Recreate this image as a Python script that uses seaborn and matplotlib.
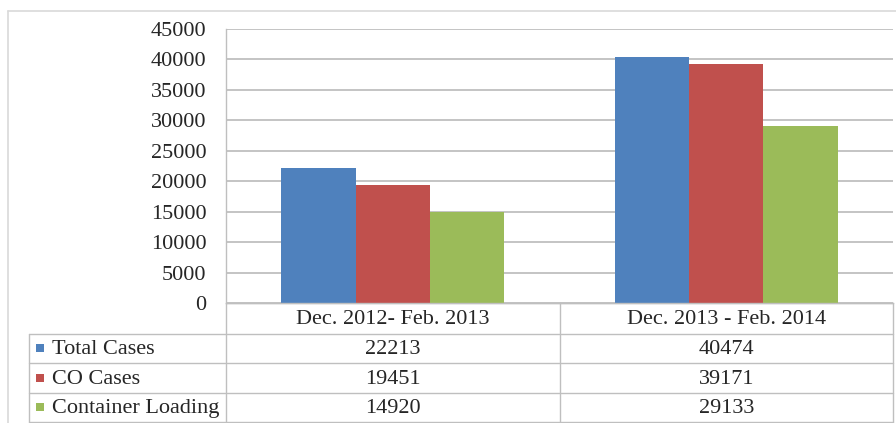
import pandas as pd
import numpy as np
import matplotlib.pyplot as plt
import seaborn as sns
from matplotlib.patches import Rectangle

# Daten
periods = ['Dec. 2012- Feb. 2013', 'Dec. 2013 - Feb. 2014']
series = ['Total Cases', 'CO Cases', 'Container Loading']
total_cases = [22213, 40474]
co_cases = [19451, 39171]
container_loading = [14920, 29133]
colors = ['#4F81BD', '#C0504D', '#9BBB59']
yticks = [0, 5000, 10000, 15000, 20000, 25000, 30000, 35000, 40000, 45000]

W, H = 896, 423
GRID = '#BFBFBF'
FS = 16

df = pd.DataFrame({
    'period': periods * 3,
    'series': [s for s in series for _ in periods],
    'value': total_cases + co_cases + container_loading,
})

sns.set_style('white')
plt.rcParams['font.family'] = ['Liberation Serif', 'DejaVu Serif']

fig = plt.figure(figsize=(W / 100, H / 100), dpi=100)

# Plotbereich (Pixel-Layout)
left, right, top, zero = 226, 893, 29, 303
ax = fig.add_axes([left / W, (H - zero) / H, (right - left) / W, (zero - top) / H])
sns.barplot(data=df, x='period', y='value', hue='series', palette=colors,
            width=0.67, saturation=1, linewidth=0, legend=False, ax=ax, zorder=3)
ax.set_xlim(-0.5, 1.5)
ax.set_ylim(0, 45000)
ax.set_yticks(yticks)
ax.set_yticklabels([str(v) for v in yticks], fontsize=FS)
ax.set_xticks([])
ax.set_xlabel('')
ax.set_ylabel('')
ax.tick_params(axis='y', length=0, pad=14)
ax.grid(axis='y', color=GRID, linewidth=1.3, zorder=0)
ax.set_axisbelow(True)
for s in ['top', 'right']:
    ax.spines[s].set_visible(False)
for s in ['left', 'bottom']:
    ax.spines[s].set_color(GRID)
    ax.spines[s].set_linewidth(1.0)

# Overlay fuer Datentabelle und Rahmen
ov = fig.add_axes([0, 0, 1, 1], zorder=5)
ov.set_xlim(0, W)
ov.set_ylim(H, 0)
ov.axis('off')
ov.patch.set_visible(False)

def px_x(xdata):
    return ax.transData.transform((xdata, 0))[0]

lc = '#BFBFBF'
tab_left = 29
rows = [303, 334, 363, 393, 422]
col_edges = [px_x(-0.5), px_x(0.5), px_x(1.5)]
col_centers = [px_x(0), px_x(1)]

# Rahmen aussen
ov.plot([8, W], [11, 11], color='#D9D9D9', lw=1.2)
ov.plot([8, 8], [11, H], color='#D9D9D9', lw=1.2)

# horizontale Linien
ov.plot([col_edges[0], col_edges[-1]], [rows[0], rows[0]], color=lc, lw=1)
for y in rows[1:]:
    ov.plot([tab_left, col_edges[-1]], [y, y], color=lc, lw=1)
# vertikale Linien
ov.plot([tab_left, tab_left], [rows[1], rows[-1]], color=lc, lw=1)
for x in col_edges:
    ov.plot([x, x], [rows[0], rows[-1]], color=lc, lw=1)

# Kopfzeile
for xc, p in zip(col_centers, periods):
    ov.text(xc, (rows[0] + rows[1]) / 2 + 1, p, ha='center', va='center', fontsize=FS)

values = [total_cases, co_cases, container_loading]
for i, (name, vals, c) in enumerate(zip(series, values, colors)):
    yc = (rows[i + 1] + rows[i + 2]) / 2
    ov.add_patch(Rectangle((36, yc - 4), 8, 8, color=c, lw=0))
    ov.text(52, yc + 1, name, ha='left', va='center', fontsize=FS)
    for xc, v in zip(col_centers, vals):
        ov.text(xc, yc + 1, str(v), ha='center', va='center', fontsize=FS)

fig.savefig('out.png', dpi=100)
